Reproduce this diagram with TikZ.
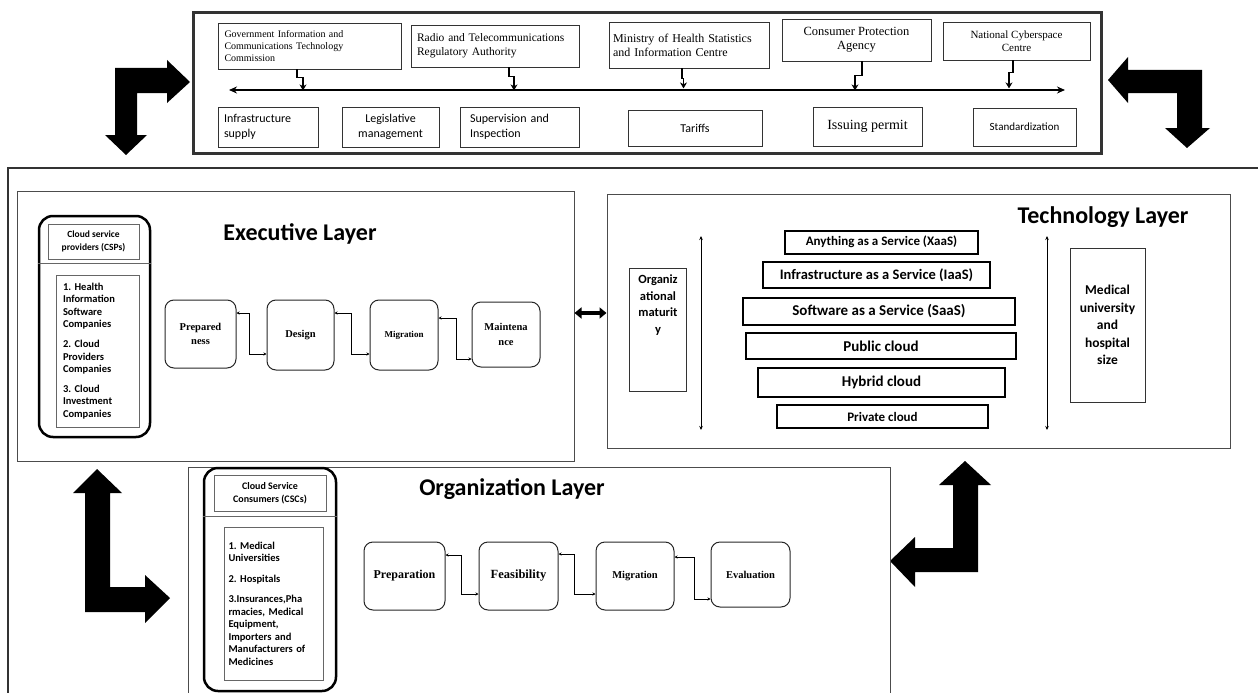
\documentclass[tikz,border=0pt]{standalone}
\usepackage{fontspec}
\setmainfont{Liberation Serif}
\newfontfamily\calibri{Carlito}
\usetikzlibrary{arrows.meta}
\newcommand{\fsz}[2]{\fontsize{#1}{#2}\selectfont}
\frenchspacing

\begin{document}
\begin{tikzpicture}[x=1pt,y=-1pt,
  box/.style={draw=black!80, line width=0.8pt, inner sep=2pt},
  layer/.style={draw=black!70, line width=1pt},
  proc/.style={draw=black!85, line width=1pt, rounded corners=9pt, align=center},
  group/.style={draw=black, line width=2.5pt, rounded corners=14pt},
  cloud/.style={draw=black, line width=2pt},
  heading/.style={font=\calibri\bfseries\fsz{24}{28}},
  flow/.style={{Stealth[length=3pt,width=3pt]}-{Stealth[length=3pt,width=3pt]}, line width=0.6pt},
  span/.style={{Stealth[length=4pt,width=3.5pt]}-{Stealth[length=4pt,width=3.5pt]}, line width=0.9pt},
  lead/.style={-{Stealth[length=6pt,width=7pt]}, line width=1.3pt},
  bus/.style={{Stealth[length=8pt,width=7pt]}-{Stealth[length=8pt,width=7pt]}, line width=1.3pt},
  dbl/.style={{Triangle[length=7pt,width=11pt]}-{Triangle[length=7pt,width=11pt]}, line width=3.5pt}
]
\useasboundingbox (0,0) rectangle (1258,693);

% regulators
\node[box, line width=3pt, minimum width=908, minimum height=140] (reg) at (647,83) {};
\node[box, minimum width=183, minimum height=46, text width=170, align=left, font=\fsz{10}{12}] (gov) at (309.5,46) {Government Information and\\Communications Technology\\Commission};
\node[box, minimum width=168, minimum height=42, text width=156, align=left, font=\fsz{11.5}{14}] (radio) at (495,46) {Radio and Telecommunications\\Regulatory Authority};
\node[box, minimum width=160, minimum height=46, text width=152, align=left, font=\fsz{12}{14}] (moh) at (689,45) {Ministry of Health Statistics\\and Information Centre};
\node[box, minimum width=149, minimum height=42, align=center, font=\fsz{12.5}{14}] (cpa) at (856.5,40) {Consumer Protection\\Agency};
\node[box, minimum width=147, minimum height=38, align=center, font=\fsz{11}{13}] (ncc) at (1016.5,41) {National Cyberspace\\Centre};

\coordinate (busL) at (229,90);
\coordinate (busR) at (1065,90);
\draw[bus] (busL) -- (busR);
\draw[lead] ([xshift=-12.5]gov.south) -- ++(0,8) -- ++(6,0) -- ++(0,13);
\draw[lead] ([xshift=14]radio.south) -- ++(0,9) -- ++(5,0) -- ++(0,14);
\draw[lead] ([xshift=-7]moh.south) -- ++(0,10) -- ++(1.5,0) -- ++(0,10);
\draw[lead] ([xshift=5.5]cpa.south) -- ++(0,14) -- ++(-7,0) -- ++(0,15);
\draw[lead] ([xshift=-3.5]ncc.south) -- ++(0,12) -- ++(-4,0) -- ++(0,16);

% tasks
\node[box, minimum width=100, minimum height=40, text width=88, align=left, font=\calibri\fsz{12}{15}] (infra) at (268,127) {Infrastructure\\supply};
\node[box, minimum width=97, minimum height=40, align=center, font=\calibri\fsz{12}{15}] (legis) at (390.5,127) {Legislative\\management};
\node[box, minimum width=119, minimum height=40, text width=99, align=left, font=\calibri\fsz{12}{15}] (superv) at (519.5,127) {Supervision and\\Inspection};
\node[box, minimum width=134, minimum height=36, font=\calibri\fsz{12}{14}] (tariff) at (695,128) {Tariffs};
\node[box, minimum width=109, minimum height=39, font=\fsz{14}{16}] (permit) at (867.5,126.5) {Issuing permit};
\node[box, minimum width=103, minimum height=38, font=\calibri\fsz{11}{13}] (std) at (1024.5,127) {Standardization};

% block arrows
\fill (190,82) -- (167,60) -- (167,68) -- (115,68) -- (115,135) -- (105,135) -- (126,155) -- (147,135) -- (137,135) -- (137,93) -- (167,93) -- (167,103) -- cycle;
\fill (1108,80) -- (1128,57) -- (1128,70) -- (1202,70) -- (1202,128) -- (1210,128) -- (1187,148) -- (1165,128) -- (1177,128) -- (1177,93) -- (1128,93) -- (1128,103) -- cycle;
\fill (97,469) -- (122,493) -- (110,493) -- (110,587) -- (145,587) -- (145,575) -- (170,598) -- (145,623) -- (145,612) -- (85,612) -- (85,493) -- (73,493) -- cycle;
\fill (965,461) -- (991,485) -- (978,485) -- (978,572) -- (915,572) -- (915,587) -- (890,561) -- (915,537) -- (915,548) -- (953,548) -- (953,485) -- (939,485) -- cycle;

\draw[black!80, line width=1.2pt] (8,693) -- (8,168) -- (1258,168);

% executive layer
\node[layer, minimum width=557, minimum height=270] (exec) at (295.5,326) {};
\node[heading] (exech) at (300,234) {Executive Layer};
\node[group, minimum width=111, minimum height=221] (csp) at (94.5,326.5) {};
\node[box, draw=black!60, minimum width=91, minimum height=35, align=center, font=\calibri\bfseries\fsz{9.5}{12.5}] (csph) at (93.5,241.5) {Cloud service\\providers (CSPs)};
\draw[black!60] (csp.west |- 0,263) -- (csp.east |- 0,263);
\node[box, draw=black!60, minimum width=83, minimum height=152, text width=69, align=left, font=\calibri\bfseries\fsz{10.5}{12.3}] (cspl) at (97.5,351) {1. Health\\Information\\Software\\Companies\\[8pt]2. Cloud\\Providers\\Companies\\[8pt]3. Cloud\\Investment\\Companies};
\node[proc, minimum width=71, minimum height=68, font=\bfseries\fsz{10.5}{14}] (prep) at (200.5,334) {Prepared\\ness};
\node[proc, minimum width=67, minimum height=70, font=\bfseries\fsz{10.5}{14}] (design) at (300.5,335) {Design};
\node[proc, minimum width=68, minimum height=70, font=\bfseries\fsz{9}{12}] (migr) at (404,335) {Migration};
\node[proc, minimum width=68, minimum height=65, font=\bfseries\fsz{10.5}{15}] (maint) at (506,334.5) {Maintena\\nce};
\draw[flow] ([yshift=21]prep.east) -- ++(13,0) |- ([yshift=-19]design.west);
\draw[flow] ([yshift=22]design.east) -- ++(17,0) |- ([yshift=-19]migr.west);
\draw[flow] ([yshift=17]migr.east) -- ++(18,0) |- ([yshift=-24.5]maint.west);

% technology layer
\node[layer, minimum width=623, minimum height=254] (tech) at (918.5,321) {};
\node[heading] (techh) at (1103,217) {Technology Layer};
\draw[dbl] (exec.east |- 0,313) -- (tech.west |- 0,313);
\coordinate (matTop) at (701,236);
\coordinate (matBot) at (701,430);
\draw[span] (matTop) -- (matBot);
\node[box, minimum width=57, minimum height=123] (mat) at (658,329.5) {};
\node[anchor=north, align=center, font=\calibri\bfseries\fsz{12.5}{16.5}] (matt) at ([yshift=-4]mat.north) {Organiz\\ational\\maturit\\y};
\node[cloud, minimum width=193, minimum height=23, font=\calibri\bfseries\fsz{13}{14}] (xaas) at (881.5,242) {Anything as a Service (XaaS)};
\node[cloud, minimum width=227, minimum height=26, font=\calibri\bfseries\fsz{14.5}{16}] (iaas) at (876.5,275) {Infrastructure as a Service (IaaS)};
\node[cloud, minimum width=272, minimum height=27, font=\calibri\bfseries\fsz{15}{16}] (saas) at (879,311.5) {Software as a Service (SaaS)};
\node[cloud, minimum width=270, minimum height=26, font=\calibri\bfseries\fsz{15}{16}] (public) at (881,346) {Public cloud};
\node[cloud, minimum width=247, minimum height=29, font=\calibri\bfseries\fsz{15}{16}] (hybrid) at (881.5,382.5) {Hybrid cloud};
\node[cloud, minimum width=211, minimum height=23, font=\calibri\bfseries\fsz{13}{14}] (private) at (882.5,416.5) {Private cloud};
\coordinate (sizeTop) at (1047,236);
\coordinate (sizeBot) at (1047,430);
\draw[span] (sizeTop) -- (sizeBot);
\node[box, minimum width=75, minimum height=154, align=center, font=\calibri\bfseries\fsz{13.5}{17.5}] (med) at (1107.5,325) {Medical\\university\\and\\hospital\\size};

% organization layer
\node[layer, minimum width=702, minimum height=250, anchor=north west] (org) at (188,467) {};
\node[heading] (orgh) at (512,489) {Organization Layer};
\node[group, minimum width=132, minimum height=223] (csc) at (270,579.5) {};
\node[box, draw=black!60, minimum width=112, minimum height=36, align=center, font=\calibri\bfseries\fsz{10}{13}] (csch) at (270,493) {Cloud Service\\Consumers (CSCs)};
\draw[black!60] (csc.west |- 0,516) -- (csc.east |- 0,516);
\node[box, draw=black!60, minimum width=99, minimum height=153, text width=90, align=left, font=\calibri\bfseries\fsz{10.5}{12.5}] (cscl) at (273.5,603.5) {1. Medical\\Universities\\[8pt]2. Hospitals\\[8pt]3.Insurances,Pha\\rmacies, Medical\\Equipment,\\Importers and\\Manufacturers of\\Medicines};
\node[proc, minimum width=81, minimum height=68, font=\bfseries\fsz{12}{14}] (prep2) at (404.5,576) {Preparation};
\node[proc, minimum width=79, minimum height=68, font=\bfseries\fsz{12.5}{14}] (feas) at (518.5,576) {Feasibility};
\node[proc, minimum width=78, minimum height=68, font=\bfseries\fsz{10.5}{13}] (migr2) at (635,576) {Migration};
\node[proc, minimum width=79, minimum height=65, font=\bfseries\fsz{10.5}{13}] (eval) at (750.5,574.5) {Evaluation};
\draw[flow] ([yshift=21]prep2.east) -- ++(16,0) |- ([yshift=-18]feas.west);
\draw[flow] ([yshift=22]feas.east) -- ++(16,0) |- ([yshift=-18]migr2.west);
\draw[flow] ([yshift=19]migr2.east) -- ++(20,0) |- ([yshift=-24.5]eval.west);
\end{tikzpicture}
\end{document}
